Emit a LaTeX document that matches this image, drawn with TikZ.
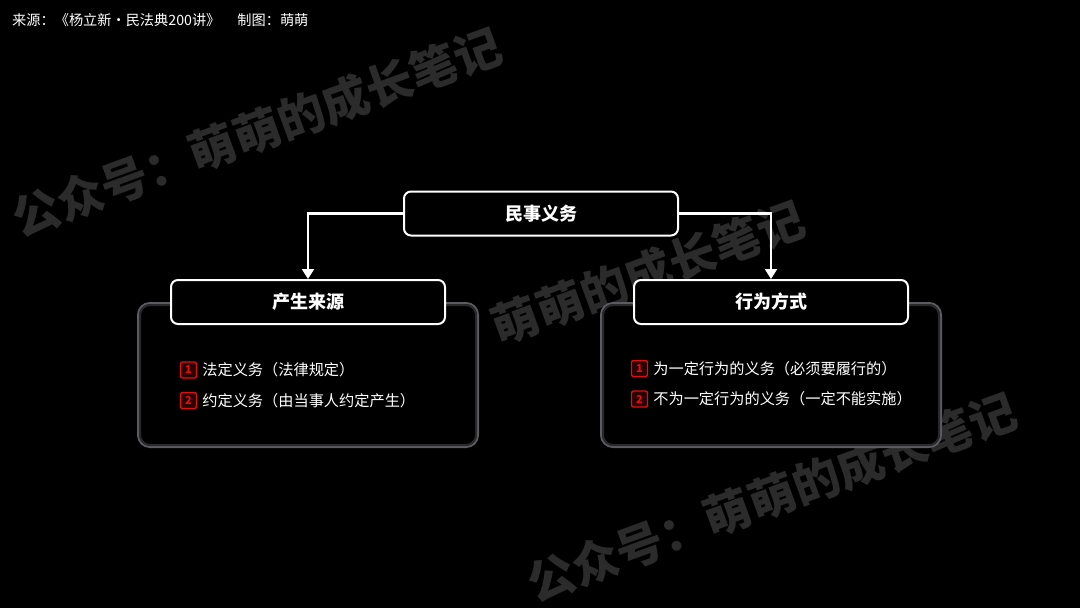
\documentclass[tikz,border=0pt]{standalone}
\usepackage{fontspec}
\setmainfont{Noto Sans CJK SC}
\usetikzlibrary{positioning,arrows.meta}
\definecolor{mark}{HTML}{2B2B2B}
\definecolor{rim}{HTML}{5C5C60}
\definecolor{badgered}{HTML}{E01010}
\definecolor{badgebg}{HTML}{2A0000}
\begin{document}
\begin{tikzpicture}[x=1pt,y=-1pt,
  hd/.style={draw=white,line width=2pt,rounded corners=7pt,fill=black,minimum width=274pt,minimum height=44pt,text=white,font=\bfseries\fontsize{18}{20}\selectfont},
  panel/.style={draw=rim,line width=2pt,rounded corners=12pt,fill=black,minimum width=340pt,minimum height=144pt},
  glow/.style={draw=rim!45!black,line width=2pt,rounded corners=10pt},
  num/.style={draw=badgered,fill=badgebg,line width=1.3pt,rounded corners=2pt,minimum size=16pt,inner sep=0pt,text=badgered,font=\bfseries\fontsize{11}{11}\selectfont},
  item/.style={text=white,inner sep=0pt,font=\fontsize{15.2}{17}\selectfont},
  wm/.style={text=mark,rotate=20,inner sep=0pt,font=\bfseries\fontsize{47}{47}\selectfont},
  arr/.style={draw=white,line width=2.2pt,-{Triangle[length=10pt,width=12pt]}}]
\fill[black](0,0)rectangle(1080,608);\useasboundingbox(0,0)rectangle(1080,608);
% watermarks
\node[wm](wm1)at(257,132){公众号：萌萌的成长笔记};
\node[wm](wm2)at(560,305){公众号：萌萌的成长笔记};
\node[wm](wm3)at(772,497){公众号：萌萌的成长笔记};
\node[anchor=west,inner sep=0pt,text=white,font=\fontsize{14.2}{16}\selectfont](cap)at(12,20){来源：《杨立新・民法典200讲》\hspace{17pt}制图：萌萌};
% panels and headers
\node[panel](lp)at(308,375){};\node[panel](rp)at(771,375){};
\draw[glow]([shift={(3pt,-3pt)}]lp.north west)rectangle([shift={(-3pt,3pt)}]lp.south east);
\draw[glow]([shift={(3pt,-3pt)}]rp.north west)rectangle([shift={(-3pt,3pt)}]rp.south east);
\node[hd](duty)at(541,213.5){民事义务};
\node[hd](src)at(308,302){产生来源};\node[hd](way)at(771,302){行为方式};
\draw[arr](duty.west)-|(src.north);\draw[arr](duty.east)-|(way.north);
% items
\node[num](l1)at(188.5,370){1};\node[item,right=5pt of l1](lt1){法定义务（法律规定）};
\node[num](l2)at(188.5,400.5){2};\node[item,right=5pt of l2](lt2){约定义务（由当事人约定产生）};
\node[num](r1)at(639.5,368.5){1};\node[item,right=5pt of r1](rt1){为一定行为的义务（必须要履行的）};
\node[num](r2)at(639.5,399){2};\node[item,right=5pt of r2](rt2){不为一定行为的义务（一定不能实施）};
\end{tikzpicture}
\end{document}
